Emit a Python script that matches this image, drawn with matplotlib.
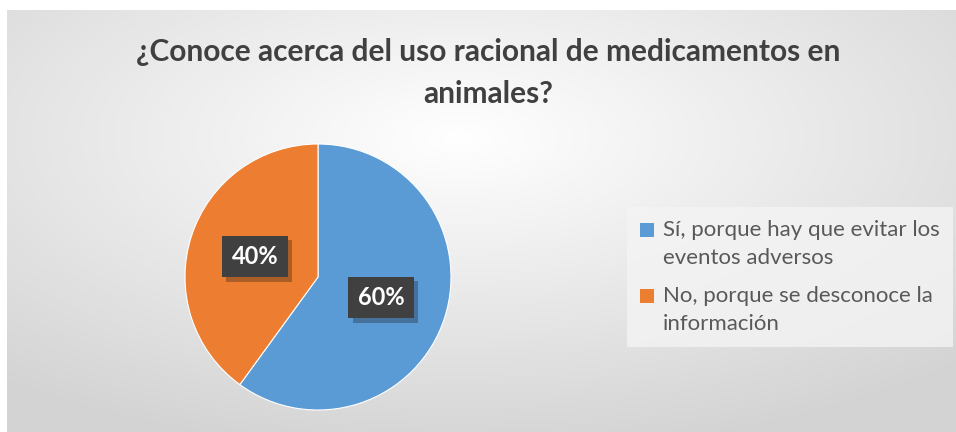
import numpy as np
import matplotlib.pyplot as plt
import matplotlib.patheffects as pe
from matplotlib.patches import Patch

# Data
labels = ["Sí, porque hay que evitar los\neventos adversos",
          "No, porque se desconoce la\ninformación"]
values = [60, 40]
colors = ["#5B9BD5", "#ED7D31"]
title = "¿Conoce acerca del uso racional de medicamentos en\nanimales?"

plt.rcParams['font.family'] = ['Lato', 'DejaVu Sans']

W, H = 956, 432
fig = plt.figure(figsize=(W / 100, H / 100), dpi=100)

# radial gradient background for the chart area
bg = fig.add_axes([7 / W, 0, 1 - 7 / W, 1 - 10 / H], zorder=0)
yy, xx = np.mgrid[0:200, 0:400]
cx, cy = 190, 60
d = np.sqrt(((xx - cx) / 400) ** 2 + ((yy - cy) / 200) ** 2)
d = np.clip(d / 0.75, 0, 1)
shade = 1.0 - 0.17 * d
bg.imshow(np.dstack([shade, shade, shade]), aspect='auto', extent=[0, 1, 0, 1], origin='upper')
bg.axis('off')

# pie
ax = fig.add_axes([(318 - 140) / W, (H - 277 - 140) / H, 280 / W, 280 / H], zorder=1)
wedges, texts, autotexts = ax.pie(values, colors=colors, startangle=90, counterclock=False,
                                  autopct='%1.0f%%', pctdistance=0.5, radius=133 / 140,
                                  wedgeprops=dict(edgecolor='white', linewidth=0.8),
                                  textprops=dict(color='white', fontsize=17, fontweight='bold'))
for t in autotexts:
    t.set_bbox(dict(boxstyle='square,pad=0.4', facecolor='#404040', edgecolor='none'))
    t.get_bbox_patch().set_path_effects([pe.SimplePatchShadow(offset=(3, -3), alpha=0.3), pe.Normal()])
ax.set_xlim(-1, 1)
ax.set_ylim(-1, 1)
ax.set_aspect('equal')

fig.text(488 / W, 1 - 73 / H, title, ha='center', va='center', fontsize=21.5,
         fontweight='bold', color='#404040', linespacing=1.6, zorder=2)

handles = [Patch(facecolor=c) for c in colors]
leg = fig.legend(handles, labels, loc='center left', bbox_to_anchor=(627 / W, 1 - 277 / H),
                 fontsize=16, frameon=True, handlelength=0.6, handleheight=0.6,
                 handletextpad=0.4, labelspacing=0.8, borderpad=0.6, borderaxespad=0,
                 labelcolor='#595959')
for t in leg.get_texts():
    t.set_linespacing(1.5)
leg.get_frame().set_facecolor('#f4f4f4')
leg.get_frame().set_edgecolor('none')
leg.get_frame().set_alpha(0.8)
leg.get_frame().set_boxstyle('square', pad=0)
for h in leg.legend_handles:
    h.set_y(h.get_y() + 10)

fig.savefig('out.png', dpi=100)
